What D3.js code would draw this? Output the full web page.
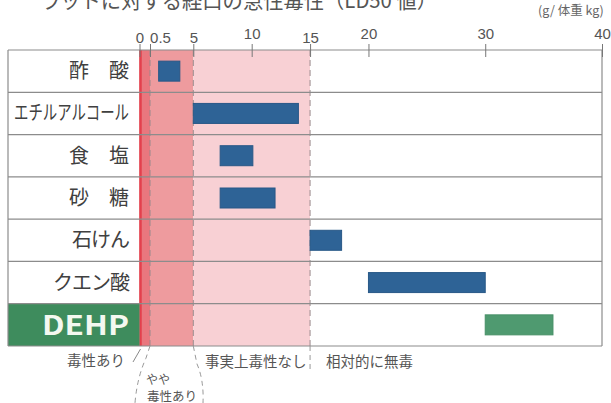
<!DOCTYPE html>
<html>
<head>
<meta charset="utf-8">
<script src="https://cdn.jsdelivr.net/npm/d3@7"></script>
<style>
  body { margin: 0; background: #fff; }
  text { font-family: "Noto Sans CJK JP", "Noto Sans", sans-serif; }
  .tick-label { font-family: "Liberation Sans", Arial, sans-serif; font-size: 15px; fill: #555; }
</style>
</head>
<body>
<script>
// 데이터
const categories = ["酢　酸", "エチルアルコール", "食　塩", "砂　糖", "石けん", "クエン酸", "DEHP"];
const lowValues  = [1.4, 5, 7.3, 7.3, 15, 20, 30];
const highValues = [3.6, 14, 10.1, 12, 17.7, 30, 35.8];
const tickValues = [0, 0.5, 5, 10, 15, 20, 30, 40];
const zoneBreaks = [0, 0.5, 5, 15, 40];
const zoneLabels = ["毒性あり", "やや毒性あり", "事実上毒性なし", "相対的に無毒"];
const titleText = "ラットに対する経口の急性毒性（LD50 値）";
const unitText = "(g/ 体重 kg)";

const width = 611, height = 403;
const plotLeft = 8, plotRight = 602, plotTop = 50, plotBottom = 346;
const labelEdge = 139.5;

const svg = d3.select("body").append("svg")
    .attr("width", width)
    .attr("height", height)
    .attr("viewBox", `0 0 ${width} ${height}`);

// 구간별로 눈금 간격이 다른 축
const x = d3.scaleLinear()
    .domain([0, 0.5, 5, 40])
    .range([labelEdge, 150, 193.3, plotRight]);

const y = d3.scaleBand()
    .domain(categories)
    .range([plotTop, plotBottom]);

const zoneColors = ["#e9777e", "#ee9b9e", "#f8d0d4", "#ffffff"];

// 제목 (위쪽이 잘려 있음)
svg.append("text")
    .attr("x", 40)
    .attr("y", 8)
    .attr("font-size", 21)
    .attr("fill", "#555")
    .attr("textLength", 397)
    .attr("lengthAdjust", "spacingAndGlyphs")
    .text(titleText);

svg.append("text")
    .attr("x", 538)
    .attr("y", 15)
    .attr("font-size", 12.5)
    .attr("fill", "#666")
    .text(unitText);

// 배경 구간
const zones = zoneBreaks.slice(0, -1).map((d, i) => ({ from: d, to: zoneBreaks[i + 1], color: zoneColors[i] }));
svg.append("g").selectAll("rect")
    .data(zones)
    .join("rect")
    .attr("x", d => x(d.from))
    .attr("y", plotTop)
    .attr("width", d => x(d.to) - x(d.from))
    .attr("height", plotBottom - plotTop)
    .attr("fill", d => d.color);

svg.append("line")
    .attr("x1", x(0) + 1).attr("x2", x(0) + 1)
    .attr("y1", plotTop).attr("y2", plotBottom)
    .attr("stroke", "#e3404d")
    .attr("stroke-width", 2.5);

// DEHP 라벨 박스
svg.append("rect")
    .attr("x", plotLeft)
    .attr("y", y("DEHP"))
    .attr("width", labelEdge - plotLeft)
    .attr("height", y.bandwidth())
    .attr("fill", "#3e8c5d");

// 구간 경계 점선
svg.append("g").selectAll("line")
    .data(zoneBreaks.slice(1, -1))
    .join("line")
    .attr("x1", d => x(d)).attr("x2", d => x(d))
    .attr("y1", plotTop).attr("y2", plotBottom)
    .attr("stroke", "#9a8a8c")
    .attr("stroke-width", 1)
    .attr("stroke-dasharray", "6,4");

// 행 구분선
svg.append("g").selectAll("line")
    .data(d3.range(categories.length + 1))
    .join("line")
    .attr("x1", plotLeft).attr("x2", plotRight)
    .attr("y1", i => plotTop + i * y.step())
    .attr("y2", i => plotTop + i * y.step())
    .attr("stroke", "#8c8c8c")
    .attr("stroke-width", 1.2);

svg.append("line")
    .attr("x1", plotLeft).attr("x2", plotLeft)
    .attr("y1", plotTop).attr("y2", plotBottom)
    .attr("stroke", "#8c8c8c").attr("stroke-width", 1.2);
svg.append("line")
    .attr("x1", plotRight).attr("x2", plotRight)
    .attr("y1", plotTop).attr("y2", plotBottom)
    .attr("stroke", "#8c8c8c").attr("stroke-width", 1.2);

// 막대
const barH = 20;
svg.append("g").selectAll("rect")
    .data(categories.map((c, i) => ({ name: c, lo: lowValues[i], hi: highValues[i] })))
    .join("rect")
    .attr("x", d => x(d.lo))
    .attr("y", d => y(d.name) + (y.bandwidth() - barH) / 2)
    .attr("width", d => x(d.hi) - x(d.lo))
    .attr("height", barH)
    .attr("fill", d => d.name === "DEHP" ? "#4f9a70" : "#2e6396")
    .attr("stroke", d => d.name === "DEHP" ? "#468f66" : "#285887")
    .attr("stroke-width", 1);

// 항목 라벨
const labels = svg.append("g").selectAll("text")
    .data(categories)
    .join("text")
    .attr("x", 129)
    .attr("y", d => y(d) + y.bandwidth() / 2 + 7)
    .attr("text-anchor", "end")
    .attr("font-size", d => d === "DEHP" ? 27 : 20)
    .attr("font-weight", d => d === "DEHP" ? "bold" : "normal")
    .attr("fill", d => d === "DEHP" ? "#f4f8f0" : "#404040")
    .text(d => d);

labels.filter(d => d === "エチルアルコール")
    .attr("textLength", 115)
    .attr("lengthAdjust", "spacingAndGlyphs");
labels.filter(d => d === "DEHP")
    .attr("y", d => y(d) + y.bandwidth() / 2 + 10)
    .attr("textLength", 87)
    .attr("lengthAdjust", "spacingAndGlyphs");
labels.filter(d => d === "クエン酸" || d === "石けん")
    .attr("letter-spacing", -1);

// 상단 축
const raised = new Set([10, 20, 30, 40]);
const axis = svg.append("g")
    .attr("transform", `translate(0,${plotTop})`)
    .call(d3.axisTop(x).tickValues(tickValues).tickFormat(d3.format("")).tickSize(6).tickPadding(8));

axis.select(".domain").remove();
axis.attr("font-family", null).attr("font-size", null);
axis.selectAll(".tick line")
    .attr("y1", 7)
    .attr("y2", -6)
    .attr("stroke", "#777");
axis.selectAll(".tick text")
    .attr("class", "tick-label")
    .attr("fill", null)
    .attr("dy", 0)
    .attr("y", d => raised.has(d) ? -11 : -7)
    .attr("dx", d => d === 0.5 ? 10 : 0);

// 하단 구간 설명
const note = svg.append("g")
    .attr("font-size", 14.5)
    .attr("fill", "#555");

note.append("text")
    .attr("x", 125).attr("y", 366)
    .attr("text-anchor", "end")
    .text(zoneLabels[0]);
note.append("line")
    .attr("x1", x(0) + 1).attr("y1", 349)
    .attr("x2", 133).attr("y2", 362)
    .attr("stroke", "#888").attr("stroke-width", 1);

note.append("text")
    .attr("x", 146).attr("y", 384)
    .attr("font-size", 12)
    .text(zoneLabels[1].slice(0, 2));
note.append("text")
    .attr("x", 147).attr("y", 401)
    .attr("font-size", 12.5)
    .text(zoneLabels[1].slice(2));

note.append("text")
    .attr("x", 205).attr("y", 367)
    .text(zoneLabels[2]);
note.append("text")
    .attr("x", 326).attr("y", 367)
    .text(zoneLabels[3]);

const dashes = [
    `M${x(0.5)},${plotBottom} L146,358 Q137,378 135,403`,
    `M${x(5)},${plotBottom} L197,364 Q204,380 203,403`,
    `M${x(15)},${plotBottom} L${x(15)},372`
];
note.selectAll("path")
    .data(dashes)
    .join("path")
    .attr("d", d => d)
    .attr("fill", "none")
    .attr("stroke", "#999")
    .attr("stroke-width", 1)
    .attr("stroke-dasharray", "5,4");
</script>
</body>
</html>
